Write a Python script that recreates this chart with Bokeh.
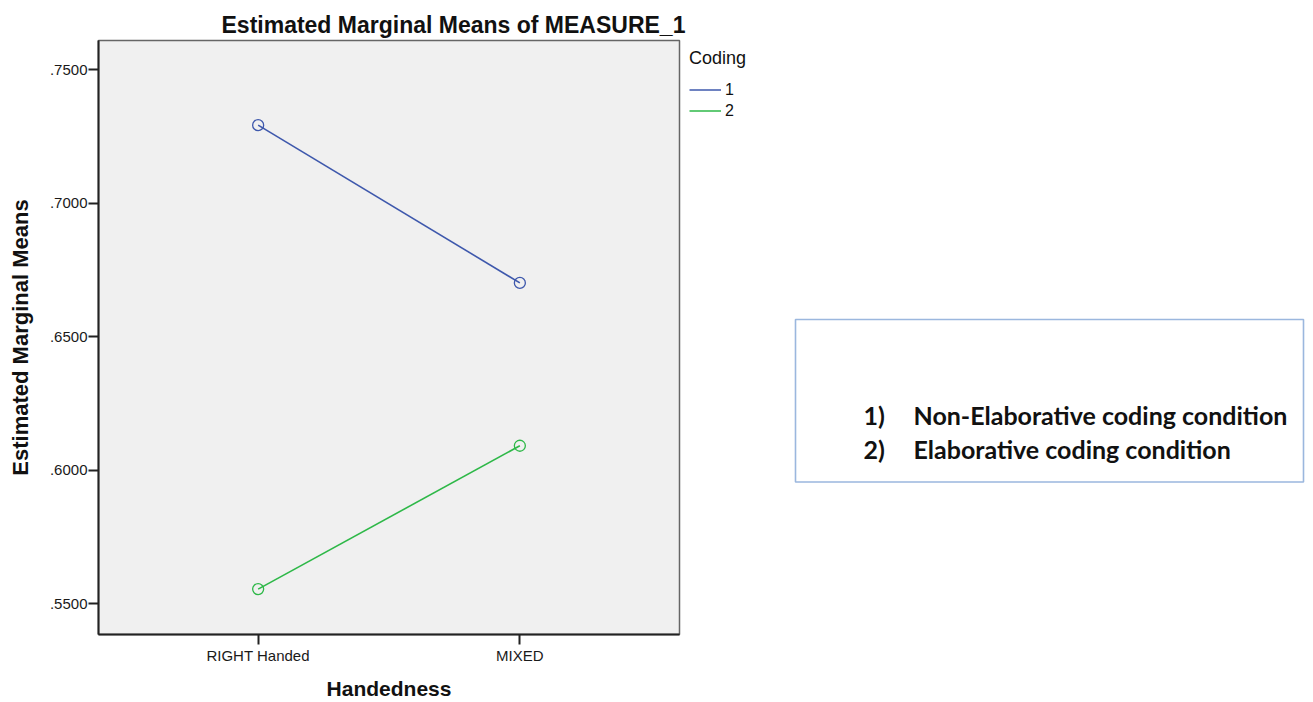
import numpy as np
from bokeh.plotting import figure
from bokeh.models import Range1d, FactorRange, Legend, LegendItem, FixedTicker
from bokeh.layouts import row
from bokeh.embed import file_html
from bokeh.resources import INLINE
from bokeh.core.properties import value

# ---- data ----
categories = ["RIGHT Handed", "MIXED"]
coding_levels = ["1", "2"]
coding1 = [0.7292, 0.6701]
coding2 = [0.5554, 0.6091]
y_ticks = [0.55, 0.60, 0.65, 0.70, 0.75]
y_tick_labels = [".5500", ".6000", ".6500", ".7000", ".7500"]
note_numbers = ["1)", "2)"]
note_texts = ["Non-Elaborative coding condition", "Elaborative coding condition"]

BLUE = "#3E58AC"
GREEN = "#2EB848"
FONT = "Liberation Sans"
NOTE_FONT = "Lato"

W_LEFT = 688
H = 702

# ---------------- main chart ----------------
p = figure(
    width=W_LEFT, height=H,
    x_range=FactorRange(factors=categories, range_padding=0.11),
    y_range=Range1d(0.5384, 0.7609),
    output_backend="svg", toolbar_location=None,
    min_border_left=98, min_border_right=W_LEFT - 679, min_border_top=40, min_border_bottom=66,
)
p.title.text = "Estimated Marginal Means of MEASURE_1"
p.title.text_font = FONT
p.title.text_font_size = "23px"
p.title.text_font_style = "bold"
p.title.text_color = "#111111"
p.title.align = "left"
p.title.offset = 123
p.title.standoff = 5

p.background_fill_color = "#F0F0F0"
p.border_fill_color = "white"
p.outline_line_color = "#666666"
p.outline_line_width = 1.5
p.xgrid.visible = False
p.ygrid.visible = False

for ax in (p.xaxis[0], p.yaxis[0]):
    ax.axis_line_color = "#222222"
    ax.axis_line_width = 2
    ax.major_tick_line_color = "#222222"
    ax.major_tick_line_width = 2
    ax.major_tick_out = 10
    ax.major_tick_in = 0
    ax.minor_tick_line_color = None
    ax.major_label_text_font = FONT
    ax.major_label_text_font_size = "15px"
    ax.major_label_text_color = "#1a1a1a"
    ax.axis_label_text_font = FONT
    ax.axis_label_text_font_style = "bold"
    ax.axis_label_text_color = "#111111"

p.yaxis.ticker = FixedTicker(ticks=y_ticks)
p.yaxis.major_label_overrides = {t: l for t, l in zip(y_ticks, y_tick_labels)}
p.yaxis.major_label_standoff = 1
p.yaxis.axis_label = "Estimated Marginal Means"
p.yaxis.axis_label_text_font_size = "22px"
p.yaxis.axis_label_standoff = 14

p.xaxis.axis_label = "Handedness"
p.xaxis.axis_label_text_font_size = "21px"
p.xaxis.major_label_standoff = 2
p.xaxis.axis_label_standoff = 10

p.line(x=categories, y=coding1, line_color=BLUE, line_width=1.6)
p.scatter(x=categories, y=coding1, marker="circle", size=11, fill_color=None,
          line_color=BLUE, line_width=1.3)
p.line(x=categories, y=coding2, line_color=GREEN, line_width=1.6)
p.scatter(x=categories, y=coding2, marker="circle", size=11, fill_color=None,
          line_color=GREEN, line_width=1.3)

# ---------------- right side: legend + note box ----------------
# coordinates in this panel are page pixels (x right, y down)
p2 = figure(
    width=1305 - W_LEFT, height=H,
    x_range=Range1d(W_LEFT, 1305), y_range=Range1d(636, 40),
    output_backend="svg", toolbar_location=None,
    min_border=0,
)
p2.axis.visible = False
p2.grid.visible = False
p2.outline_line_color = None
p2.background_fill_color = "white"
p2.border_fill_color = "white"

# legend proxies (a single undefined point each, nothing is drawn in the panel)
r1 = p2.line(x=[np.nan], y=[np.nan], line_color=BLUE, line_width=1.6)
r2 = p2.line(x=[np.nan], y=[np.nan], line_color=GREEN, line_width=1.6)
legend = Legend(
    items=[LegendItem(label=coding_levels[0], renderers=[r1]),
           LegendItem(label=coding_levels[1], renderers=[r2])],
    title="Coding", location=(1, 513),
    margin=0, padding=0, spacing=0,
    border_line_color=None, background_fill_alpha=0,
    title_text_font=FONT, title_text_font_size="18px", title_text_font_style="normal",
    title_text_color="#111111", title_standoff=10,
    label_text_font=FONT, label_text_font_size="16px", label_text_color="#111111",
    glyph_width=32, glyph_height=21, label_height=21, label_standoff=4,
)
p2.add_layout(legend)

p2.quad(left=[795], right=[1303], top=[320], bottom=[483],
        fill_color=None, line_color="#9BB7DE", line_width=1.6)
note_y = [415.5, 449.5]
p2.text(x=[863, 863], y=note_y, text=note_numbers, text_baseline="middle",
        text_font=value(NOTE_FONT), text_font_style="bold", text_font_size="25px",
        text_color="#111111")
p2.text(x=[913, 913], y=note_y, text=note_texts, text_baseline="middle",
        text_font=value(NOTE_FONT), text_font_style="bold", text_font_size="25px",
        text_color="#111111")

layout = row(p, p2)
open("out.html", "w").write(file_html(layout, INLINE))
